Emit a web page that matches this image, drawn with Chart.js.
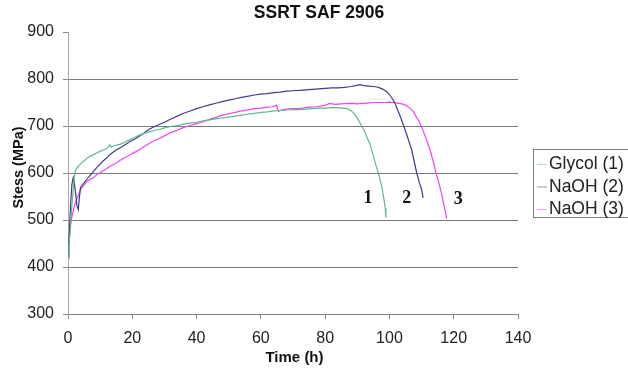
<!DOCTYPE html>
<html>
<head>
<meta charset="utf-8">
<script src="https://cdn.jsdelivr.net/npm/chart.js@4/dist/chart.umd.min.js"></script>
<style>
  html, body { margin: 0; padding: 0; background: #fff; }
  #wrap { width: 628px; height: 368px; }
</style>
</head>
<body>
<div id="wrap"><canvas id="c" width="628" height="368"></canvas></div>
<script>
// ---- data (time in h, stress in MPa) ----
const chartTitle = 'SSRT SAF 2906';
const xTitle = 'Time (h)';
const yTitle = 'Stess (MPa)';
const seriesLabels = ['Glycol (1)', 'NaOH (2)', 'NaOH (3)'];
const curveNumbers = ['1', '2', '3'];

const glycol = [
  [0,420],[0.3,445],[0.7,478],[1,510],[1.4,548],[1.8,580],[2.2,604],[2.7,610],[3.2,614],[4,620],
  [5,626],[6,632],[7,636],[8,639],[9,643],[10,646],[11,649],[12,652],[12.6,656],[13,660],
  [13.4,655],[14,657],[15,659],[16,661],[17,663],[18,667],[19.3,671],[20.5,675],[22,680],[23.5,684],
  [25.5,688],[27,691],[28.6,693],[30,696],[32,699],[34,701],[36,704],[38,706],[40,708],[42,711],
  [44,713],[46,715],[48,717],[50,719],[52,721],[54,723],[56.6,726],[58,727],[60,729],[62,730],
  [64,732],[66,733],[68,734],[70,735],[72,735],[74,736],[76,737],[78,738],[80,738],[82,739],
  [84,739],[85.5,738],[86.8,737],[88,733],[88.8,728],[89.5,722],[90.3,713],[91.4,700],[92.2,690],[92.9,678],
  [94,660],[95,636],[96.3,605],[97.1,586],[97.7,568],[98.3,544],[98.7,525],[98.9,505]
];

const naoh2 = [
  [0,425],[0.4,470],[0.8,530],[1.2,575],[1.6,590],[2.0,578],[2.4,555],[2.8,530],[3.2,522],[3.5,545],
  [3.9,569],[4.5,575],[5.5,583],[6.5,592],[7.9,603],[9,612],[10,619],[11,626],[12,632],[13,639],
  [14,644],[15,649],[16.5,655],[18,661],[19.3,667],[21,673],[23,682],[25.5,694],[28,702],[30,708],
  [32,715],[34,721],[36,727],[38,732],[40,737],[42,741],[44,745],[46.3,749],[48,752],[50,755],
  [52,758],[54,761],[56.6,764],[58,766],[60,768],[62,769],[64,771],[66,772],[68,774],[70,775],
  [72,776],[74,777],[76,778],[78,779],[80,780],[82,781],[84,781],[86,782],[88,784],[89.5,786],
  [90.8,788],[92,786],[93.5,785],[95,784],[96,783],[97,781],[98,778],[99.2,773],[100,767],[100.8,759],
  [101.7,749],[102.5,735],[103.5,718],[104.5,699],[105.7,675],[106.9,650],[107.7,625],[108.5,600],[109.3,580],[110,565],
  [110.5,547]
];

const naoh3 = [
  [0,420],[0.3,450],[0.6,480],[1,500],[1.5,515],[2,530],[2.7,544],[3.3,555],[3.9,565],[5,574],
  [6,582],[7,587],[7.9,590],[9,597],[10,601],[11.5,607],[13,614],[14.5,619],[16,626],[17.5,632],
  [19.3,639],[21,645],[23,653],[25.5,664],[27,669],[28.6,674],[30,679],[32,686],[34,691],[36,697],
  [38,701],[40,705],[42,709],[44,714],[46.3,719],[48,723],[50,726],[52,729],[54,732],[56.6,735],
  [58,737],[60,738],[62,740],[63.5,741],[64.9,744],[65.2,735],[65.5,731],[66,733],[67,735],[69,737],
  [71,737],[73,738],[75,740],[77.4,741],[79,743],[80.5,745],[81.3,748],[83,746],[85,747],[87.7,748],
  [90,747],[92,748],[94,749],[96,750],[98.7,750],[100,751],[101.5,750],[103,748],[104.5,746],[105.4,743],
  [106.4,738],[107.4,731],[108.3,720],[109.2,710],[110,699],[111.3,675],[112.6,650],[113.6,625],[114.5,600],[115.4,578],
  [116.3,554],[117,530],[117.5,515],[117.8,503]
];

// where the curve numbers sit, in data units (time, stress)
const curveNumberAt = [[93.3,547],[105.4,547],[121.4,543]];

const xMin = 0, xMax = 140, xStep = 20;
const yMin = 300, yMax = 900, yStep = 100;

// ---- styling ----
const colors = ['#5fb98c', '#3d3d8f', '#ee44ee'];
const FONT = "'Liberation Sans', Arial, Helvetica, sans-serif";
Chart.defaults.font.family = FONT;

const toXY = arr => arr.map(([x, y]) => ({x, y}));

const decor = {
  id: 'decor',
  afterDraw(chart) {
    const ctx = chart.ctx;
    const xs = chart.scales.x, ys = chart.scales.y;
    ctx.save();
    ctx.fillStyle = '#111';
    ctx.textAlign = 'center';
    ctx.textBaseline = 'middle';
    // title
    ctx.font = 'bold 17.5px ' + FONT;
    ctx.fillText(chartTitle, 319, 13.5);
    // x title
    ctx.font = 'bold 15px ' + FONT;
    ctx.fillText(xTitle, 294.5, 358);
    // y title
    ctx.save();
    ctx.translate(19, 167.5);
    ctx.rotate(-Math.PI / 2);
    ctx.font = 'bold 14.5px ' + FONT;
    ctx.fillText(yTitle, 0, 0);
    ctx.restore();
    // curve numbers
    ctx.font = "bold 18px 'Liberation Serif', 'Times New Roman', serif";
    curveNumbers.forEach((t, i) => {
      const [dx, dy] = curveNumberAt[i];
      ctx.fillText(t, xs.getPixelForValue(dx), ys.getPixelForValue(dy));
    });
    // legend box
    ctx.strokeStyle = '#808080';
    ctx.lineWidth = 1;
    ctx.strokeRect(533.5, 149.5, 110, 68);
    ctx.font = '17.5px ' + FONT;
    ctx.textAlign = 'left';
    ctx.fillStyle = '#222';
    const rows = [164, 186.5, 209];
    chart.data.datasets.forEach((ds, i) => {
      ctx.strokeStyle = ds.borderColor;
      ctx.globalAlpha = 0.55;
      ctx.beginPath();
      ctx.moveTo(537, rows[i] + 0.5);
      ctx.lineTo(547, rows[i] + 0.5);
      ctx.stroke();
      ctx.globalAlpha = 1;
      ctx.fillText(ds.label, 549, rows[i] + 0.5);
    });
    ctx.restore();
  }
};

new Chart(document.getElementById('c'), {
  type: 'line',
  data: {
    datasets: [glycol, naoh2, naoh3].map((d, i) => ({
      label: seriesLabels[i],
      data: toXY(d),
      borderColor: colors[i],
      backgroundColor: colors[i],
      borderWidth: 1.2,
      pointRadius: 0,
      tension: 0,
      fill: false
    }))
  },
  options: {
    responsive: false,
    animation: false,
    events: [],
    layout: { padding: { top: 32, right: 110, left: 0, bottom: 0 } },
    plugins: {
      legend: { display: false },
      title: { display: false },
      tooltip: { enabled: false }
    },
    scales: {
      x: {
        type: 'linear',
        min: xMin, max: xMax,
        afterFit: s => { s.height = 54; },
        ticks: { stepSize: xStep, padding: 10, color: '#222', font: { size: 16 }, maxRotation: 0 },
        grid: { drawOnChartArea: false, tickLength: 5, color: '#8a8a8a', tickColor: '#8a8a8a' },
        border: { color: '#808080', width: 1 }
      },
      y: {
        min: yMin, max: yMax,
        afterFit: s => { s.width = 68; },
        ticks: { stepSize: yStep, padding: 9, color: '#222', font: { size: 16 } },
        grid: {
          tickLength: 5,
          color: c => (c.tick && c.tick.value === yMax) ? 'rgba(0,0,0,0)' : '#7a7a7a',
          tickColor: '#8a8a8a'
        },
        border: { color: '#a8a8a8', width: 1 }
      }
    }
  },
  plugins: [decor]
});
</script>
</body>
</html>
